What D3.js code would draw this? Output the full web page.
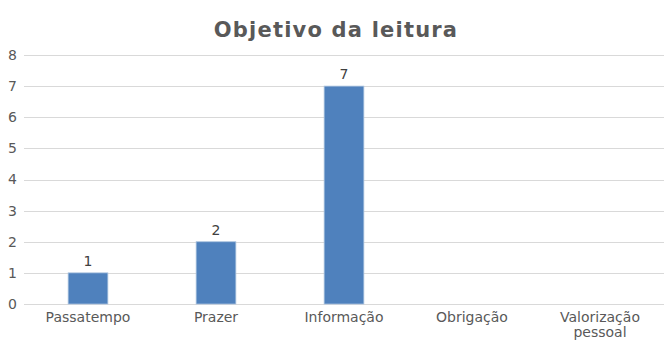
<!DOCTYPE html>
<html>
<head>
<meta charset="utf-8">
<script src="https://cdn.jsdelivr.net/npm/d3@7"></script>
<style>
  body { margin: 0; background: #fff; }
  svg { font-family: "DejaVu Sans", sans-serif; }
</style>
</head>
<body>
<svg id="chart" width="672" height="355"></svg>
<script>
const categories = ["Passatempo", "Prazer", "Informação", "Obrigação", "Valorização pessoal"];
const values = [1, 2, 7, null, null];
const yTicks = [0, 1, 2, 3, 4, 5, 6, 7, 8];
const title = "Objetivo da leitura";

const margin = { top: 55, right: 8, bottom: 51, left: 24 };
const width = 672, height = 355;

const svg = d3.select("#chart");

const x = d3.scaleBand()
  .domain(categories)
  .range([margin.left, width - margin.right])
  .paddingInner(0.69)
  .paddingOuter(0.345);

const xBand = d3.scaleBand()
  .domain(categories)
  .range([margin.left, width - margin.right]);

const y = d3.scaleLinear()
  .domain([0, 8])
  .range([height - margin.bottom, margin.top]);

// title
svg.append("text")
  .attr("x", 336)
  .attr("y", 37)
  .attr("text-anchor", "middle")
  .attr("font-size", 21)
  .attr("font-weight", "bold")
  .attr("letter-spacing", 1.2)
  .attr("fill", "#595959")
  .text(title);

// gridlines
svg.append("g")
  .selectAll("line")
  .data(yTicks)
  .join("line")
  .attr("x1", margin.left)
  .attr("x2", width - margin.right)
  .attr("y1", d => Math.round(y(d)) + 0.5)
  .attr("y2", d => Math.round(y(d)) + 0.5)
  .attr("stroke", "#d9d9d9")
  .attr("stroke-width", 1);

// y labels
svg.append("g")
  .selectAll("text")
  .data(yTicks)
  .join("text")
  .attr("x", 17)
  .attr("y", d => y(d))
  .attr("dy", "0.35em")
  .attr("text-anchor", "end")
  .attr("font-size", 14)
  .attr("fill", "#595959")
  .text(d => d);

// bars
const barData = categories.map((c, i) => ({ c, v: values[i] })).filter(d => d.v != null);

svg.append("g")
  .selectAll("rect")
  .data(barData)
  .join("rect")
  .attr("x", d => x(d.c))
  .attr("width", x.bandwidth())
  .attr("y", d => y(d.v))
  .attr("height", d => y(0) - y(d.v))
  .attr("fill", "#4f81bd")
  .attr("stroke", "#a7c0de")
  .attr("stroke-width", 0.8);

// value labels
svg.append("g")
  .selectAll("text")
  .data(barData)
  .join("text")
  .attr("x", d => x(d.c) + x.bandwidth() / 2)
  .attr("y", d => y(d.v) - 7)
  .attr("text-anchor", "middle")
  .attr("font-size", 14)
  .attr("fill", "#404040")
  .text(d => d.v);

// category labels
const catG = svg.append("g")
  .selectAll("text")
  .data(categories)
  .join("text")
  .attr("x", d => xBand(d) + xBand.bandwidth() / 2)
  .attr("y", height - margin.bottom + 18)
  .attr("text-anchor", "middle")
  .attr("font-size", 14)
  .attr("fill", "#595959");

catG.each(function(d) {
  const words = d.length > 12 ? d.split(" ") : [d];
  const t = d3.select(this);
  words.forEach((w, i) => {
    t.append("tspan")
      .attr("x", xBand(d) + xBand.bandwidth() / 2)
      .attr("dy", i === 0 ? 0 : 15)
      .text(w);
  });
});
</script>
</body>
</html>
